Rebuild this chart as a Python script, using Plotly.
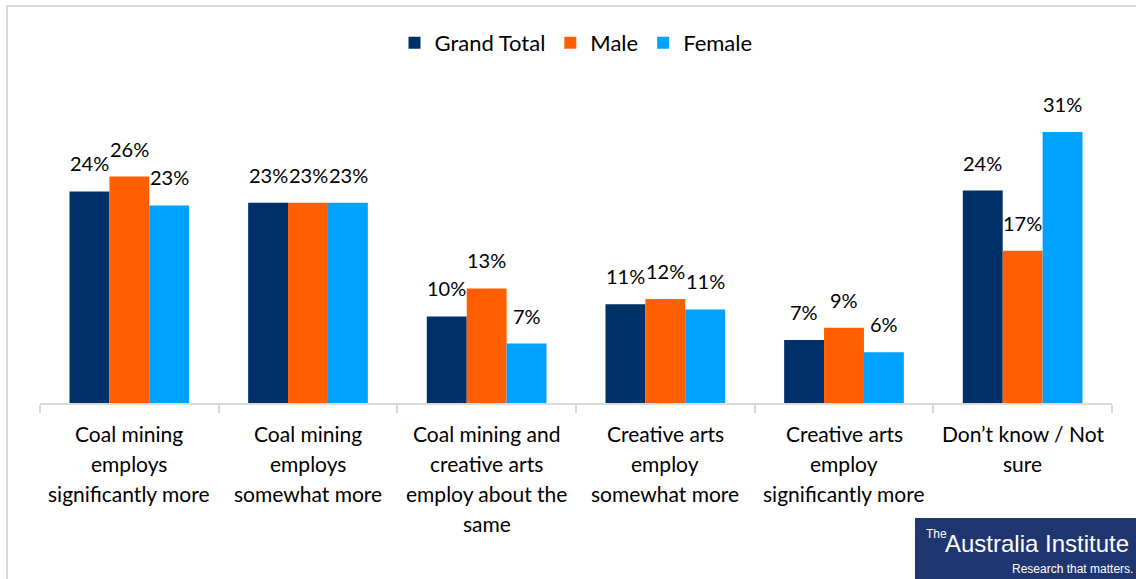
import plotly.graph_objects as go

# Survey responses: which industry employs more people
categories = [
    "Coal mining<br>employs<br>significantly more",
    "Coal mining<br>employs<br>somewhat more",
    "Coal mining and<br>creative arts<br>employ about the<br>same",
    "Creative arts<br>employ<br>somewhat more",
    "Creative arts<br>employ<br>significantly more",
    "Don\u2019t know / Not<br>sure",
]
grand_total = [24.2, 22.9, 9.9, 11.3, 7.2, 24.3]
male = [25.9, 22.9, 13.1, 11.9, 8.6, 17.4]
female = [22.6, 22.9, 6.8, 10.7, 5.8, 31.0]

series = [
    ("Grand Total", grand_total, "#003068"),
    ("Male", male, "#FF5F00"),
    ("Female", female, "#00A2FF"),
]

W, H = 1136, 579
ML, MR, MT, MB = 40, 24, 97, 176
FONT = "Lato, Calibri, sans-serif"

fig = go.Figure()
for name, vals, col in series:
    fig.add_trace(go.Bar(
        name=name, x=categories, y=vals, marker_color=col,
        marker_line_width=0,
    ))

plot_w = W - ML - MR
plot_h = H - MT - MB


def px(x):
    return (x - ML) / plot_w


def py(y):
    return (H - MB - y) / plot_h


# value labels above each bar
shifts = [-40, 0, 40]
annotations = []
for (name, vals, col), dx in zip(series, shifts):
    for c, v in zip(categories, vals):
        annotations.append(dict(
            x=c, y=v, xref="x", yref="y", text=f"{v:.0f}%",
            showarrow=False, xshift=dx, yshift=14, yanchor="bottom",
            font=dict(family=FONT, size=20, color="#000000"),
        ))

# category labels, one line at a time with wider line spacing
for c in categories:
    for i, line in enumerate(c.split("<br>")):
        annotations.append(dict(
            x=c, y=py(433 + 30 * i), xref="x", yref="paper", text=line,
            showarrow=False, xanchor="center", yanchor="middle",
            font=dict(family=FONT, size=21, color="#000000"),
        ))

# publisher badge
annotations.append(dict(
    x=px(924), y=py(534), xref="paper", yref="paper", xanchor="left", yanchor="middle",
    text="The", showarrow=False,
    font=dict(family="Liberation Sans Narrow, Arial Narrow, sans-serif", size=12, color="#ffffff"),
))
annotations.append(dict(
    x=px(943), y=py(543), xref="paper", yref="paper", xanchor="left", yanchor="middle",
    text="Australia Institute", showarrow=False,
    font=dict(family="Liberation Sans Narrow, Arial Narrow, sans-serif", size=24, color="#ffffff"),
))
annotations.append(dict(
    x=px(1135), y=py(569), xref="paper", yref="paper", xanchor="right", yanchor="middle",
    text="Research that matters.", showarrow=False,
    font=dict(family="Liberation Sans Narrow, Arial Narrow, sans-serif", size=12, color="#ffffff"),
))

shapes = [
    dict(type="rect", xref="paper", yref="paper",
         x0=px(7), x1=px(1160), y0=py(6), y1=py(600),
         line=dict(color="#d9d9d9", width=2), fillcolor="rgba(0,0,0,0)", layer="below"),
    dict(type="rect", xref="paper", yref="paper",
         x0=px(915), x1=px(1140), y0=py(518), y1=py(585),
         line=dict(width=0), fillcolor="#1f3670", layer="above"),
]

fig.update_layout(
    width=W, height=H,
    margin=dict(l=ML, r=MR, t=MT, b=MB),
    paper_bgcolor="#ffffff", plot_bgcolor="#ffffff",
    barmode="group", bargap=0.33, bargroupgap=0,
    font=dict(family=FONT, size=20, color="#000000"),
    legend=dict(orientation="h", x=0.5, xanchor="center", y=py(43), yanchor="middle",
                font=dict(family=FONT, size=22), itemwidth=30, tracegroupgap=0),
    xaxis=dict(showline=True, linecolor="#d9d9d9", linewidth=2,
               ticks="outside", tickson="boundaries", ticklen=8, tickcolor="#d9d9d9",
               tickwidth=2, showgrid=False, showticklabels=False),
    yaxis=dict(range=[0, 35], visible=False, showgrid=False, zeroline=False),
    annotations=annotations,
    shapes=shapes,
    showlegend=True,
)

fig.write_html("out.html")
